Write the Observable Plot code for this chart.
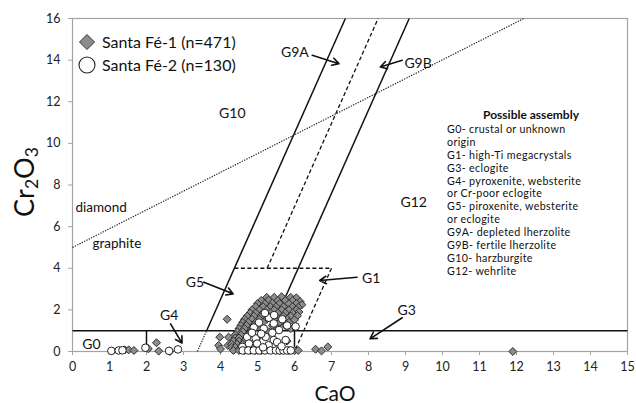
<!DOCTYPE html>
<html><head><meta charset="utf-8">
<script src="https://cdn.jsdelivr.net/npm/d3@7"></script>
<script src="https://cdn.jsdelivr.net/npm/@observablehq/plot@0.6"></script>
<style>
body{margin:0;background:#fff;font-family:Lato,sans-serif;color:#111;}
#wrap{position:relative;width:636px;height:403px;overflow:hidden;}
.ov{position:absolute;white-space:nowrap;}
#ytitle{left:25px;top:182px;font-size:27px;transform:translate(-50%,-50%) rotate(-90deg);line-height:1;}
#ytitle sub{font-size:0.65em;vertical-align:-0.25em;}
#xtitle{left:335px;top:392px;font-size:21px;transform:translate(-50%,-50%);line-height:1;}
#legend{left:78px;top:30px;font-size:16px;}
.lrow{position:absolute;left:0;height:23px;display:flex;align-items:center;}
.lrow svg{margin-right:6px;}
#asmTitle{left:447px;top:107.8px;width:168px;text-align:center;font-weight:bold;font-size:12px;line-height:14.4px;}
#asmLines{left:447px;top:122.9px;font-size:10.7px;line-height:12.9px;letter-spacing:0.35px;}
</style></head><body><div id="wrap"></div>
<script>
// ---- data (CaO wt%, Cr2O3 wt%) ----
const santaFe1 = [
  [1.41,0.08],[1.52,0.08],[1.66,0.05],[2.05,0.13],[2.27,0.42],[2.33,0.02],[2.63,0.0],
  [3.98,0.69],[4.22,0.69],[3.95,0.29],[4.2,0.29],[4.0,0.12],[4.18,1.55],
  [5.25,2.6],[5.45,2.6],[5.65,2.63],[5.9,2.6],[6.05,2.58],
  [5.1,2.45],[5.3,2.47],[5.55,2.45],[5.75,2.45],[5.95,2.45],[6.15,2.4],
  [5.0,2.3],[5.2,2.3],[5.4,2.32],[5.6,2.3],[5.85,2.3],[6.05,2.3],[6.2,2.25],
  [4.95,2.15],[5.15,2.15],[5.35,2.15],[5.5,2.15],[5.7,2.15],[5.95,2.15],[6.1,2.12],
  [4.85,2.0],[5.05,2.0],[5.25,2.0],[5.45,2.0],[5.65,2.0],[5.85,2.0],[6.05,2.0],
  [4.8,1.85],[4.95,1.85],[5.15,1.85],[5.35,1.85],[5.55,1.85],[5.75,1.85],[5.95,1.85],[6.12,1.9],
  [4.72,1.7],[4.9,1.7],[5.1,1.7],[5.3,1.7],[5.5,1.7],[5.7,1.7],[5.9,1.7],[6.08,1.72],
  [4.65,1.55],[4.85,1.55],[5.05,1.55],[5.25,1.55],[5.45,1.55],[5.8,1.55],[6.0,1.52],
  [4.6,1.4],[4.75,1.4],[4.95,1.4],[5.15,1.4],[5.6,1.4],[5.85,1.4],
  [4.55,1.25],[4.7,1.25],[4.9,1.25],[5.4,1.25],[5.75,1.25],
  [4.5,1.1],[4.65,1.1],[4.85,1.1],[5.1,1.1],[5.55,1.1],[5.9,1.1],
  [4.45,0.95],[4.6,0.95],[4.8,0.95],[5.3,0.95],
  [4.4,0.8],[4.55,0.8],[4.75,0.8],
  [4.4,0.65],[4.5,0.65],[4.7,0.65],[5.0,0.65],
  [4.35,0.5],[4.5,0.5],[4.65,0.5],[5.8,0.5],
  [4.3,0.35],[4.45,0.35],[4.6,0.35],[4.75,0.35],
  [4.3,0.2],[4.4,0.2],[4.55,0.2],[4.7,0.2],[4.85,0.2],
  [4.35,0.05],[4.5,0.05],[4.65,0.05],[4.8,0.05],[4.95,0.05],[5.1,0.05],[5.6,0.05],[5.85,0.05],[6.0,0.05],[6.1,0.05],
  [6.57,0.11],[6.73,0.03],[6.9,0.22],[11.9,0.0]
];
const santaFe2 = [
  [1.05,0.03],[1.25,0.05],[1.35,0.06],[1.97,0.18],[2.61,0.03],[2.85,0.1],
  [5.31,1.62],[5.67,1.55],[6.03,1.2],[5.2,1.85],[5.45,1.75],
  [5.04,1.39],[5.44,1.35],[5.17,1.1],[5.58,1.03],[5.8,1.25],[4.9,1.15],
  [4.72,0.7],[4.95,0.63],[5.22,0.7],[5.44,0.55],[4.99,0.38],[4.77,0.38],[5.3,0.3],[4.59,0.22],
  [5.76,0.55],[5.53,0.45],[5.1,0.85],[5.4,0.9],[4.85,0.9],
  [4.6,0.05],[4.75,0.05],[4.9,0.05],[5.05,0.05],[5.2,0.05],[5.35,0.05],[5.5,0.05],[5.6,0.05],
  [5.7,0.05],[5.8,0.05],[5.9,0.05],[5.15,0.2],[5.65,0.25]
];
const seriesNames = ["Santa Fé-1 (n=471)", "Santa Fé-2 (n=130)"];
const xTicks = [0,1,2,3,4,5,6,7,8,9,10,11,12,13,14,15];
const yTicks = [0,2,4,6,8,10,12,14,16];

// classification boundaries (CaO, Cr2O3 end points)
const solidBounds = [
  [0,1,15,1],[2,0,2,1],[6,0,6,1],[3.625,1,7.375,16],[5.35,1,9.1,16]
];
const dashedBounds = [
  [5.26,4,8.26,16],[4.375,4,7.0,4],[7.0,4,6.0,0]
];
const dottedBounds = [
  [3.375,0,3.625,1],[0,5,12.2,16]
];
// region labels and arrows
const regionLabels = [
  {x:6.01,y:14.38,t:"G9A"},{x:9.34,y:13.85,t:"G9B"},{x:4.32,y:11.44,t:"G10"},
  {x:9.22,y:7.18,t:"G12"},{x:3.31,y:3.32,t:"G5"},{x:8.07,y:3.51,t:"G1"},
  {x:2.61,y:1.73,t:"G4"},{x:9.03,y:1.97,t:"G3"},{x:0.51,y:0.34,t:"G0"}
];
const fieldLabels = [
  {x:0.08,y:6.92,t:"diamond"},{x:0.54,y:5.19,t:"graphite"}
];
const arrows = [
  [6.48,14.23,7.2,13.83],[8.91,13.99,8.32,13.67],[3.55,3.33,4.34,2.77],
  [7.69,3.57,6.68,3.41],[2.65,1.33,2.96,0.40],[8.91,1.62,8.04,0.61]
];
const assemblyTitle = "Possible assembly";
const assemblyLines = [
  "G0- crustal or unknown","origin","G1- high-Ti megacrystals","G3- eclogite",
  "G4- pyroxenite, websterite","or Cr-poor eclogite","G5- piroxenite, websterite",
  "or eclogite","G9A- depleted lherzolite","G9B- fertile lherzolite",
  "G10- harzburgite","G12- wehrlite"
];

const seg = a => a.map(([x1,y1,x2,y2]) => ({x1,y1,x2,y2}));
const axisGray = "#a3a3a3";

const chart = Plot.plot({
  width: 636, height: 403,
  marginLeft: 72, marginRight: 9, marginTop: 18, marginBottom: 52,
  style: {fontFamily: "Lato, sans-serif", color: "#222", background: "#fff"},
  x: {domain: [0, 15]},
  y: {domain: [0, 16]},
  marks: [
    Plot.frame({stroke: axisGray, strokeWidth: 1.2}),
    Plot.axisX({ticks: xTicks, tickSize: 4, tickPadding: 7, stroke: axisGray, fontSize: 12.5, label: null}),
    Plot.axisY({ticks: yTicks, tickSize: 4, tickPadding: 8, stroke: axisGray, fontSize: 12.5, label: null}),
    Plot.link(seg(dottedBounds), {x1:"x1", y1:"y1", x2:"x2", y2:"y2", stroke:"#222", strokeWidth:1.2, strokeDasharray:"1.3,1.3"}),
    Plot.link(seg(dashedBounds), {x1:"x1", y1:"y1", x2:"x2", y2:"y2", stroke:"#111", strokeWidth:1.3, strokeDasharray:"4,2.5"}),
    Plot.link(seg(solidBounds), {x1:"x1", y1:"y1", x2:"x2", y2:"y2", stroke:"#111", strokeWidth:1.5}),
    Plot.arrow(seg(arrows), {x1:"x1", y1:"y1", x2:"x2", y2:"y2", stroke:"#111", strokeWidth:1.6, headLength:7, bend:0}),
    Plot.text(regionLabels, {x:"x", y:"y", text:"t", fontSize:14, fill:"#111"}),
    Plot.text(fieldLabels, {x:"x", y:"y", text:"t", fontSize:13.5, fill:"#111", textAnchor:"start"}),
    Plot.dot(santaFe1, {x:d=>d[0], y:d=>d[1], symbol:"diamond2", r:3.6, fill:"#8c8c8c", stroke:"#2e2e2e", strokeWidth:1}),
    Plot.dot(santaFe2, {x:d=>d[0], y:d=>d[1], symbol:"circle", r:3.8, fill:"#fff", stroke:"#222", strokeWidth:1})
  ]
});

const wrap = document.getElementById("wrap");
wrap.appendChild(chart);

function ov(id, html){ const d=document.createElement("div"); d.className="ov"; d.id=id; d.innerHTML=html; wrap.appendChild(d); return d; }
ov("ytitle", "Cr<sub>2</sub>O<sub>3</sub>");
ov("xtitle", "CaO");
const legend = ov("legend", "");
const legendSymbols = [
  '<svg width="18" height="18" viewBox="-9 -9 18 18"><path d="M0,-7.5L7.5,0L0,7.5L-7.5,0Z" fill="#8c8c8c" stroke="#333" stroke-width="1"/></svg>',
  '<svg width="18" height="18" viewBox="-9 -9 18 18"><circle r="8" fill="#fff" stroke="#222" stroke-width="1.1"/></svg>'
];
seriesNames.forEach((n,i)=>{
  const r=document.createElement("div"); r.className="lrow"; r.style.top=(i*23.3)+"px";
  r.innerHTML=legendSymbols[i]+'<span>'+n+'</span>'; legend.appendChild(r);
});
ov("asmTitle", assemblyTitle);
ov("asmLines", assemblyLines.map(s=>'<div>'+s+'</div>').join(""));
</script></body></html>
